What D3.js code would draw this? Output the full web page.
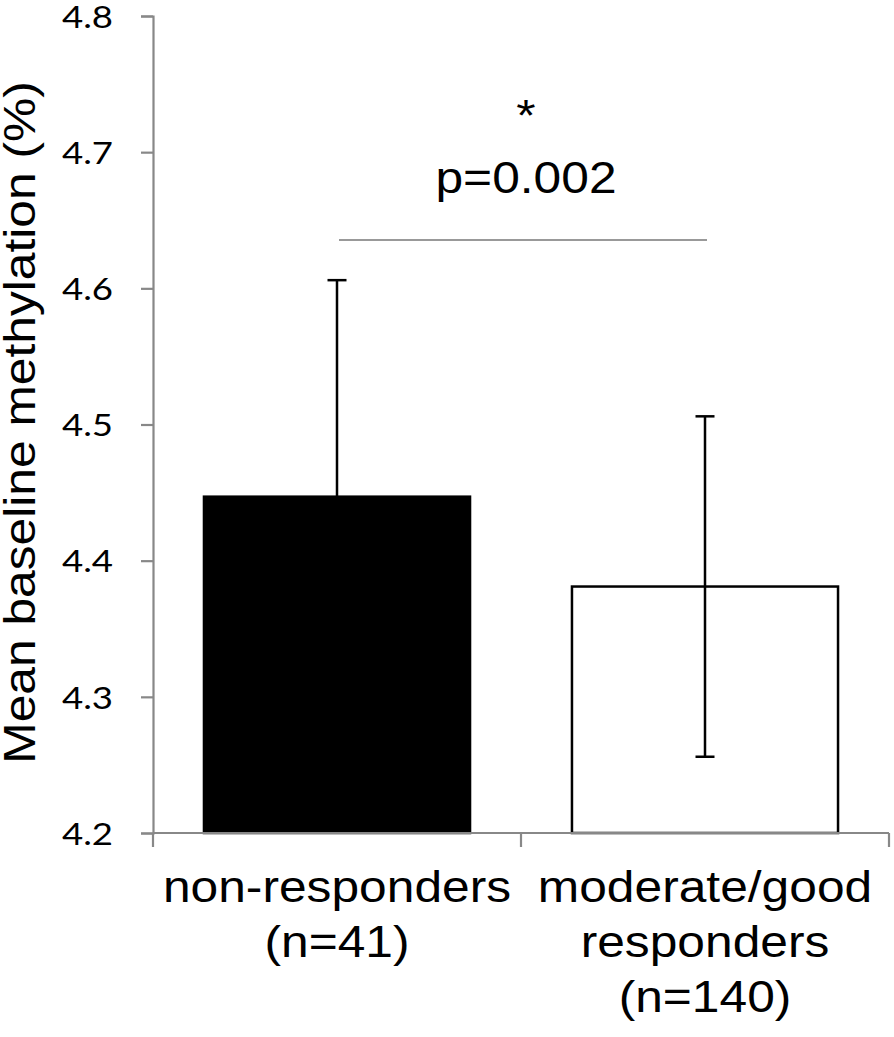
<!DOCTYPE html>
<html>
<head>
<meta charset="utf-8">
<script src="https://cdn.jsdelivr.net/npm/d3@7"></script>
<style>
  html, body { margin: 0; padding: 0; background: #fff; }
  svg { display: block; }
</style>
</head>
<body>
<svg id="chart" width="894" height="1037"></svg>
<script>
// ---- data ----
const categories = ["non-responders", "moderate/good responders"];
const labelLines = [["non-responders", "(n=41)"], ["moderate/good", "responders", "(n=140)"]];
const means = [4.447, 4.381];
const errors = [0.159, 0.125];
const yTicks = [4.2, 4.3, 4.4, 4.5, 4.6, 4.7, 4.8];
const yLabel = "Mean baseline methylation (%)";
const sigStar = "*";
const sigText = "p=0.002";

(function () {
// ---- layout ----
const svg = d3.select("#chart");
const mLeft = 153, mRight = 889, mTop = 16, mBottom = 833;
const axisColor = "#888888";
const sansFont = "'Liberation Sans', Arial, sans-serif";
const tickFont = "Lato, 'Open Sans', sans-serif";
const fs = 44, sx = 1.13;   // font size and horizontal glyph stretch

const x = d3.scaleBand().domain(categories).range([mLeft, mRight])
  .paddingInner(0.277).paddingOuter(0.1385);
const y = d3.scaleLinear().domain([4.2, 4.8]).range([mBottom, mTop]);

// bars
svg.append("g").selectAll("rect").data(categories).join("rect")
  .attr("x", d => x(d))
  .attr("y", (d, i) => y(means[i]))
  .attr("width", x.bandwidth())
  .attr("height", (d, i) => y(4.2) - y(means[i]))
  .attr("fill", (d, i) => i === 0 ? "#000" : "#fff")
  .attr("stroke", "#000")
  .attr("stroke-width", 2.5);

// error bars
const eb = svg.append("g").attr("stroke", "#000").attr("stroke-width", 2.5);
categories.forEach((c, i) => {
  const cx = x(c) + x.bandwidth() / 2;
  const hi = y(means[i] + errors[i]), lo = y(means[i] - errors[i]);
  eb.append("line").attr("x1", cx).attr("x2", cx).attr("y1", hi).attr("y2", lo);
  eb.append("line").attr("x1", cx - 9.5).attr("x2", cx + 9.5).attr("y1", hi).attr("y2", hi);
  eb.append("line").attr("x1", cx - 9.5).attr("x2", cx + 9.5).attr("y1", lo).attr("y2", lo);
});

// y axis
const yAxis = d3.axisLeft(y).tickValues(yTicks).tickFormat(d3.format(".1f")).tickSize(12).tickPadding(0);
const ya = svg.append("g").attr("transform", `translate(${mLeft},0)`).call(yAxis);
ya.select(".domain").attr("stroke", axisColor).attr("stroke-width", 2.2);
ya.selectAll(".tick line").attr("stroke", axisColor).attr("stroke-width", 2.2);
ya.selectAll(".tick text").attr("fill", "#000").style("font-family", tickFont).style("font-size", "31px")
  .attr("x", 0).attr("dy", "0.36em")
  .attr("transform", "translate(-40,0) scale(1.18,1)");

// x axis (ticks at band boundaries)
const xa = svg.append("g").attr("transform", `translate(0,${mBottom})`);
xa.append("line").attr("x1", mLeft).attr("x2", mRight).attr("y1", 0).attr("y2", 0)
  .attr("stroke", axisColor).attr("stroke-width", 2.2);
const boundaries = [mLeft, x(categories[1]) - x.step() * x.paddingInner() / 2, mRight];
xa.selectAll("line.tk").data(boundaries).join("line").attr("class", "tk")
  .attr("x1", d => d).attr("x2", d => d).attr("y1", 0).attr("y2", 14)
  .attr("stroke", axisColor).attr("stroke-width", 2.2);

function stretchedText(px, py, str, rot) {
  return svg.append("text")
    .attr("transform", `translate(${px},${py})${rot ? " rotate(" + rot + ")" : ""} scale(${sx},1)`)
    .attr("text-anchor", "middle").style("font-family", sansFont).style("font-size", fs + "px")
    .attr("fill", "#000").text(str);
}

// x labels
categories.forEach((c, i) => {
  const cx = x(c) + x.bandwidth() / 2;
  labelLines[i].forEach((ln, j) => stretchedText(cx, 902 + j * 55, ln));
});

// y label
stretchedText(35, (83 + 762) / 2, yLabel, -90);

// significance
const c0 = x(categories[0]) + x.bandwidth() / 2, c1 = x(categories[1]) + x.bandwidth() / 2;
svg.append("line").attr("x1", c0 + 2).attr("x2", c1 + 2).attr("y1", 240).attr("y2", 240)
  .attr("stroke", "#777").attr("stroke-width", 1.5);
stretchedText((c0 + c1) / 2 + 5, 193, sigText);
stretchedText((c0 + c1) / 2 + 5, 131, sigStar);
})();
</script>
</body>
</html>
